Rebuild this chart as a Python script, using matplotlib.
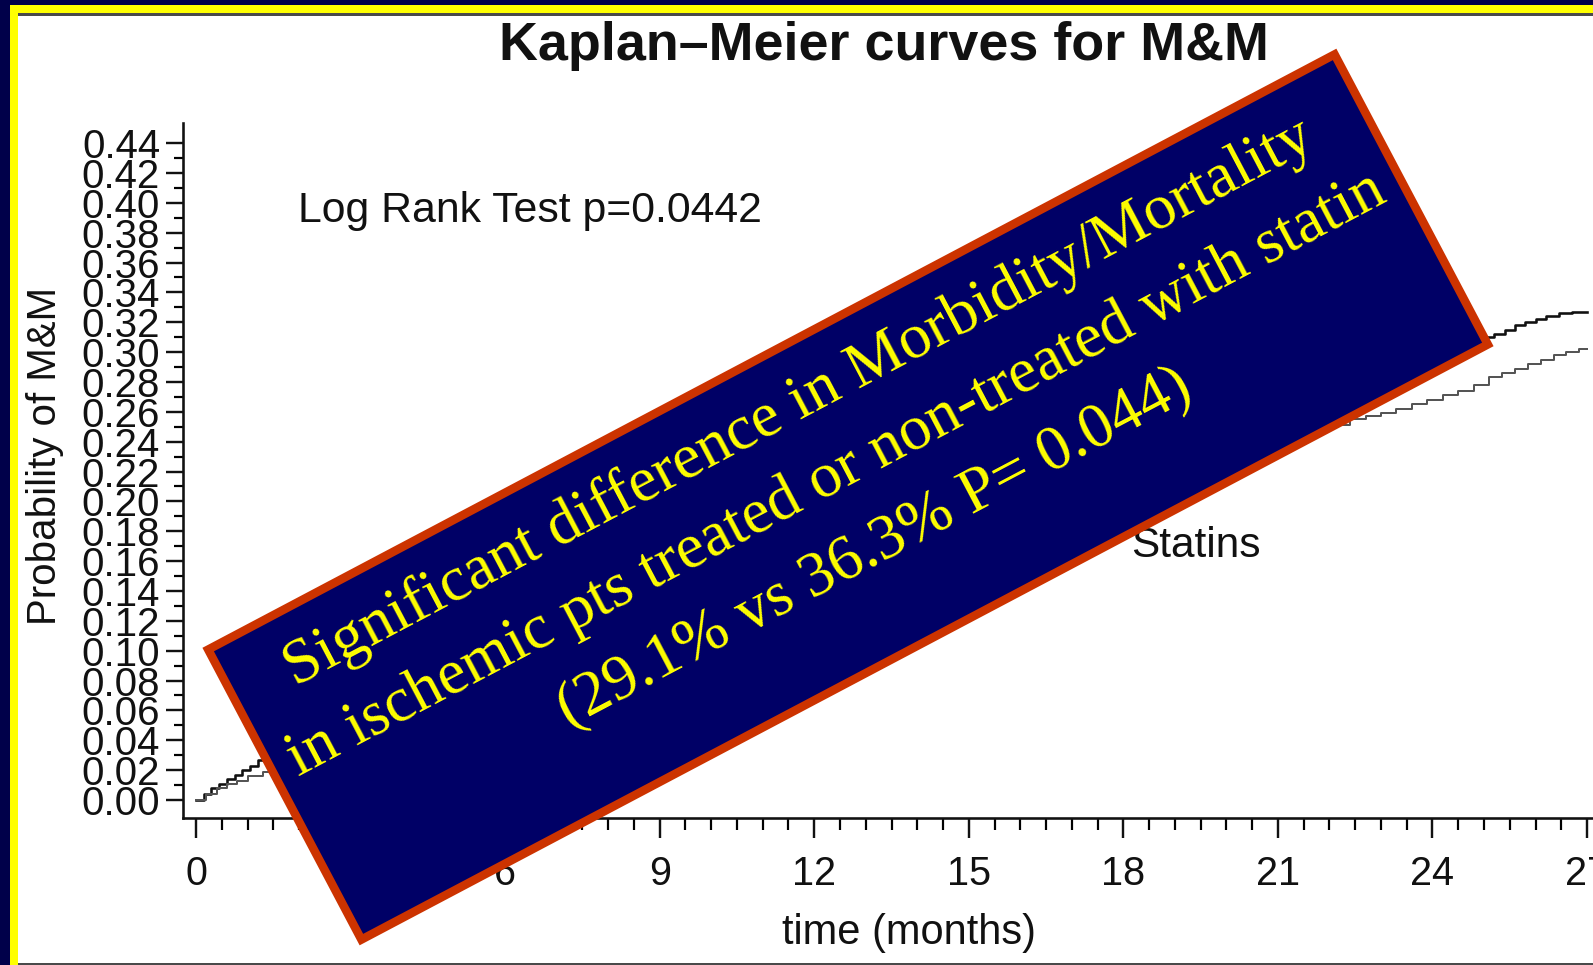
import matplotlib
matplotlib.use("Agg")
import numpy as np
import matplotlib.pyplot as plt
from matplotlib.patches import Rectangle, Polygon
from matplotlib.ticker import FixedLocator, FixedFormatter

# ---------------- data ----------------
title = "Kaplan–Meier curves for M&M"
xlabel = "time (months)"
ylabel = "Probability of M&M"
logrank_text = "Log Rank Test p=0.0442"
group_label = "Statins"
box_lines = ["Significant difference in Morbidity/Mortality",
             "in ischemic pts treated or non-treated with statin",
             "(29.1% vs 36.3% P= 0.044)"]

x_ticks = [0, 3, 6, 9, 12, 15, 18, 21, 24, 27]
x_ticklabels = ["0", "3", "6", "9", "12", "15", "18", "21", "24", "27"]
y_ticks = [0.00, 0.02, 0.04, 0.06, 0.08, 0.10, 0.12, 0.14, 0.16, 0.18, 0.20, 0.22,
           0.24, 0.26, 0.28, 0.30, 0.32, 0.34, 0.36, 0.38, 0.40, 0.42, 0.44]
y_ticklabels = ["%.2f" % v for v in y_ticks]

# No statins (black, upper curve)
t_nostatin = [0, 0.15, 0.3, 0.45, 0.6, 0.75, 0.9, 1.05, 1.2, 1.4, 1.7, 2.0, 2.5, 3.0,
              3.6, 4.2, 5.0, 5.8, 6.6, 7.5, 8.4, 9.3, 10.2, 11.1, 12.0, 13.0, 14.0,
              15.0, 16.0, 17.0, 18.0, 19.0, 20.0, 21.0, 22.0, 23.0, 24.0, 24.6, 25.0,
              25.2, 25.4, 25.6, 25.8, 26.0, 26.2, 26.45, 26.7, 27.0]
p_nostatin = [0.000, 0.004, 0.008, 0.011, 0.014, 0.017, 0.020, 0.023, 0.027, 0.030,
              0.034, 0.038, 0.045, 0.053, 0.062, 0.071, 0.082, 0.092, 0.102, 0.113,
              0.123, 0.133, 0.143, 0.152, 0.161, 0.172, 0.182, 0.193, 0.204, 0.216,
              0.228, 0.240, 0.252, 0.264, 0.277, 0.291, 0.302, 0.307, 0.310, 0.312,
              0.315, 0.318, 0.320, 0.322, 0.324, 0.326, 0.327, 0.327]

# Statins (grey, lower curve)
t_statin = [0, 0.2, 0.4, 0.6, 0.8, 1.0, 1.3, 1.6, 2.0, 2.5, 3.0, 3.6, 4.2, 5.0, 5.8,
            6.6, 7.5, 8.4, 9.3, 10.2, 11.1, 12.0, 13.0, 14.0, 15.0, 16.0, 17.0, 18.0,
            19.0, 20.0, 21.0, 21.8, 22.4, 22.7, 23.0, 23.3, 23.6, 23.9, 24.2, 24.5,
            24.8, 25.1, 25.35, 25.6, 25.85, 26.1, 26.35, 26.6, 26.85, 27.0]
p_statin = [0.000, 0.004, 0.008, 0.011, 0.013, 0.016, 0.019, 0.022, 0.026, 0.031,
            0.036, 0.042, 0.048, 0.057, 0.066, 0.076, 0.087, 0.098, 0.110, 0.121,
            0.131, 0.142, 0.153, 0.164, 0.175, 0.187, 0.198, 0.209, 0.220, 0.232,
            0.243, 0.251, 0.255, 0.257, 0.259, 0.262, 0.265, 0.268, 0.271, 0.274,
            0.278, 0.283, 0.286, 0.289, 0.292, 0.295, 0.298, 0.300, 0.302, 0.302]

# ---------------- layout (pixels) ----------------
W, H, DPI = 1593, 965, 100
plt.rcParams["font.family"] = ["Liberation Sans", "DejaVu Sans"]

X0PX, PX_PER_MONTH = 196.0, 51.52          # x = 0 position, scale
Y0PX, PX_PER_UNIT = 800.0, 1493.0         # y = 0 position, scale
AX_L, AX_B, AX_T = 183.0, 818.0, 123.0
XMAX = 27.5
AX_R = X0PX + XMAX * PX_PER_MONTH

def pt(px):
    return px * 72.0 / DPI

fig = plt.figure(figsize=(W / DPI, H / DPI), dpi=DPI, facecolor="#00004a")

# background frame
axb = fig.add_axes([0, 0, 1, 1], zorder=0)
axb.set_xlim(0, W); axb.set_ylim(H, 0); axb.axis("off")
axb.add_patch(Rectangle((10, 5), W, H, facecolor="#ffff00", edgecolor="none"))
axb.add_patch(Rectangle((18, 13), W, 952, facecolor="#4a4a4a", edgecolor="none"))
axb.add_patch(Rectangle((18, 15.5), W, 947, facecolor="white", edgecolor="none"))

# main axes
ax = fig.add_axes([AX_L / W, 1 - AX_B / H, (AX_R - AX_L) / W, (AX_B - AX_T) / H], zorder=1)
ax.patch.set_alpha(0)
ax.set_xlim((AX_L - X0PX) / PX_PER_MONTH, XMAX)
ax.set_ylim(-(AX_B - Y0PX) / PX_PER_UNIT, (Y0PX - AX_T) / PX_PER_UNIT)

ax.step(t_nostatin, p_nostatin, where="post", color="#111111", lw=pt(2.6))
ax.step(t_statin, p_statin, where="post", color="#555555", lw=pt(2.0))

for s in ["top", "right"]:
    ax.spines[s].set_visible(False)
for s in ["left", "bottom"]:
    ax.spines[s].set_linewidth(pt(2.6))
    ax.spines[s].set_color("#111111")

ax.xaxis.set_major_locator(FixedLocator(x_ticks))
ax.xaxis.set_major_formatter(FixedFormatter(x_ticklabels))
ax.xaxis.set_minor_locator(FixedLocator([v for v in np.arange(0.5, 27.5, 0.5) if v % 3 != 0]))
ax.yaxis.set_major_locator(FixedLocator(y_ticks))
ax.yaxis.set_major_formatter(FixedFormatter(y_ticklabels))
ax.yaxis.set_minor_locator(FixedLocator(np.arange(0.01, 0.44, 0.02)))

ax.tick_params(axis="x", which="major", length=pt(20), width=pt(2.4), pad=pt(17),
               labelsize=28.5, colors="#111111")
ax.tick_params(axis="x", which="minor", length=pt(12), width=pt(2.2))
ax.tick_params(axis="y", which="major", length=pt(17), width=pt(2.4), pad=pt(6),
               labelsize=29, colors="#111111")
ax.tick_params(axis="y", which="minor", length=pt(9), width=pt(2.2))

ax_w, ax_h = AX_R - AX_L, AX_B - AX_T
ax.set_xlabel(xlabel, fontsize=30, color="#111111")
ax.xaxis.set_label_coords((909 - AX_L) / ax_w, (AX_B - 933) / ax_h)
ax.xaxis.label.set_va("center")
ax.set_ylabel(ylabel, fontsize=29, color="#111111")
ax.yaxis.set_label_coords((45 - AX_L) / ax_w, (AX_B - 456) / ax_h)
ax.yaxis.label.set_va("center")

ax.text((298 - X0PX) / PX_PER_MONTH, (Y0PX - 222) / PX_PER_UNIT, logrank_text,
        fontsize=30.8, color="#111111", ha="left", va="baseline")
ax.text((1131 - X0PX) / PX_PER_MONTH, (Y0PX - 546) / PX_PER_UNIT, group_label,
        fontsize=30.5, color="#111111", ha="left", va="center")

fig.text(884 / W, 1 - 60 / H, title, ha="center", va="baseline", fontsize=38.8,
         fontweight="bold", color="#111111")

# overlay: rotated annotation box
axo = fig.add_axes([0, 0, 1, 1], zorder=3)
axo.set_xlim(0, W); axo.set_ylim(H, 0); axo.axis("off")
axo.patch.set_alpha(0)
ang = np.deg2rad(27.85)
cx, cy, bw, bh = 848.0, 497.0, 1274.0, 328.0
u = np.array([np.cos(ang), -np.sin(ang)])
v = np.array([np.sin(ang), np.cos(ang)])
c = np.array([cx, cy])
corners = [c - u * bw / 2 - v * bh / 2, c + u * bw / 2 - v * bh / 2,
           c + u * bw / 2 + v * bh / 2, c - u * bw / 2 + v * bh / 2]
axo.add_patch(Polygon(corners, closed=True, facecolor="#000066", edgecolor="#cc3300",
                      linewidth=pt(8.5), joinstyle="miter"))
for line, off in zip(box_lines, [-106, -25, 58]):
    p = c + v * off
    axo.text(p[0], p[1], line, rotation=27.85, rotation_mode="anchor", ha="center",
             va="center", fontsize=46, color="#ffff00",
             family=["Liberation Serif", "DejaVu Serif"])

fig.savefig("out.png", dpi=DPI, facecolor=fig.get_facecolor())
